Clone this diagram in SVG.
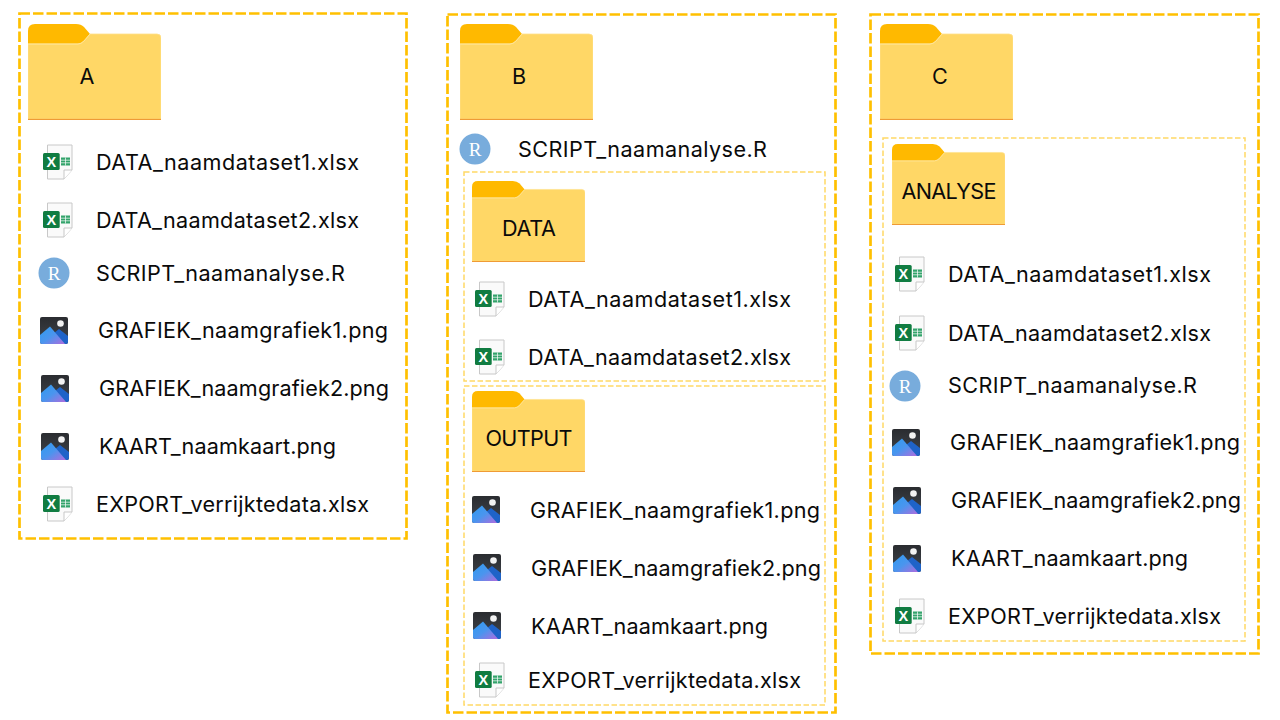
<svg xmlns="http://www.w3.org/2000/svg" width="1280" height="720" viewBox="0 0 1280 720">
<style>
text{font-family:Inter,"Liberation Sans",Arial,sans-serif;font-size:21.6px;fill:#0a0a0a;dominant-baseline:central}
.outer{fill:none;stroke:#FFC000;stroke-width:2.700;stroke-dasharray:10.500 3}
.inner{fill:none;stroke:#FFD966;stroke-width:1.500;stroke-dasharray:5.500 2.500}
.xl{font-family:"Liberation Sans",Arial,sans-serif;font-weight:bold;font-size:14.500px;fill:#fff;text-anchor:middle}
.r{font-family:"Liberation Serif",serif;font-size:19px;fill:#fff;text-anchor:middle}
.ft{text-anchor:middle}
</style>
<defs>
<linearGradient id="img" x1="0" y1="0" x2="1" y2="1"><stop offset="0" stop-color="#2F9BEF"/><stop offset="0.5" stop-color="#4A95EE"/><stop offset="1" stop-color="#B06CDE"/></linearGradient>
<linearGradient id="bg" x1="0" y1="0" x2="0" y2="1"><stop offset="0" stop-color="#2A2C30"/><stop offset="1" stop-color="#40454C"/></linearGradient>
<symbol id="folder" viewBox="0 0 133 96" preserveAspectRatio="none">
<path d="M0 7Q0 0 7 0H48Q53 0 56 3L62 10L60 20H0Z" fill="#FFB900"/>
<path d="M0 20H50Q53 20 56 17L62 10H129Q133 10 133 14V95H0Z" fill="#FFD766" stroke="#FFE08A" stroke-width=".8"/>
<path d="M0 20H50Q53 20 56 17L62 10" fill="none" stroke="#FFE597" stroke-width="1"/>
<rect x="0" y="94.800" width="133" height="1.200" fill="#EF9B35"/>
</symbol>
<symbol id="excel" viewBox="0 0 30 36">
<path d="M4.500 1H29V26L21 35H4.500Z" fill="#FAFAFA" stroke="#C8C8C8"/>
<path d="M21 35V26H29" fill="#fff" stroke="#C8C8C8"/>
<rect x="0" y="9" width="16.700" height="17" rx="1.500" fill="#107C41"/>
<rect x="18" y="13.500" width="9" height="8" fill="#33A36B"/>
<path d="M18 16.200H27M18 18.800H27M22.500 13.500V21.500" stroke="#fff" stroke-width=".7"/>
</symbol>
<symbol id="image" viewBox="0 0 28 27">
<rect width="28" height="27" rx="2" fill="url(#bg)"/>
<path d="M14 16L19 12L28 19V25Q28 27 26 27H20Z" fill="#1F63C8"/>
<path d="M0 18L10 9.500L25 27H2Q0 27 0 25Z" fill="url(#img)"/>
<circle cx="20.500" cy="6.500" r="3.300" fill="#F2F2F2"/>
</symbol>
<g id="xi"><use href="#excel" width="30" height="36" x="-15" y="-18"/><text class="xl" x="-6.700" y="0">X</text></g>
<g id="ri"><circle r="15.500" fill="#78ACDC"/><text class="r" y="0">R</text></g>
</defs>

<g id="panel-A">
<rect class="outer" x="19.500" y="13.500" width="387" height="525"/>
<g id="folder-A"><use href="#folder" x="28" y="24" width="133" height="96"/><text class="ft" x="87" y="76">A</text></g>
<g id="a-data1"><use href="#xi" x="58" y="162"/><text x="96" y="162" textLength="263">DATA_naamdataset1.xlsx</text></g>
<g id="a-data2"><use href="#xi" x="58" y="220"/><text x="96" y="220" textLength="263">DATA_naamdataset2.xlsx</text></g>
<g id="a-script"><use href="#ri" x="54" y="273"/><text x="96" y="273" textLength="249">SCRIPT_naamanalyse.R</text></g>
<g id="a-graf1"><use href="#image" x="40" y="317" width="28" height="27"/><text x="98" y="330" textLength="290">GRAFIEK_naamgrafiek1.png</text></g>
<g id="a-graf2"><use href="#image" x="41" y="375" width="28" height="27"/><text x="99" y="388" textLength="290">GRAFIEK_naamgrafiek2.png</text></g>
<g id="a-kaart"><use href="#image" x="41" y="433" width="28" height="27"/><text x="99" y="446" textLength="237">KAART_naamkaart.png</text></g>
<g id="a-export"><use href="#xi" x="58" y="504"/><text x="96" y="504" textLength="273">EXPORT_verrijktedata.xlsx</text></g>
</g>

<g id="panel-B">
<rect class="outer" x="447.500" y="14.500" width="388" height="698"/>
<g id="folder-B"><use href="#folder" x="460" y="24" width="133" height="96"/><text class="ft" x="519" y="76">B</text></g>
<g id="b-script"><use href="#ri" x="475" y="149"/><text x="518" y="149" textLength="249">SCRIPT_naamanalyse.R</text></g>
<rect class="inner" x="464" y="172" width="361" height="209"/>
<g id="folder-DATA"><use href="#folder" x="472" y="181" width="113" height="81"/><text class="ft" x="529" y="228" textLength="54">DATA</text></g>
<g id="b-data1"><use href="#xi" x="490" y="299"/><text x="528" y="299" textLength="263">DATA_naamdataset1.xlsx</text></g>
<g id="b-data2"><use href="#xi" x="490" y="357"/><text x="528" y="357" textLength="263">DATA_naamdataset2.xlsx</text></g>
<rect class="inner" x="464" y="386" width="361" height="319"/>
<g id="folder-OUTPUT"><use href="#folder" x="472" y="391" width="113" height="81"/><text class="ft" x="529" y="438" textLength="87">OUTPUT</text></g>
<g id="b-graf1"><use href="#image" x="472" y="496" width="28" height="27"/><text x="530" y="510" textLength="290">GRAFIEK_naamgrafiek1.png</text></g>
<g id="b-graf2"><use href="#image" x="473" y="554" width="28" height="27"/><text x="531" y="568" textLength="290">GRAFIEK_naamgrafiek2.png</text></g>
<g id="b-kaart"><use href="#image" x="473" y="612" width="28" height="27"/><text x="531" y="626" textLength="237">KAART_naamkaart.png</text></g>
<g id="b-export"><use href="#xi" x="490" y="680"/><text x="528" y="680" textLength="273">EXPORT_verrijktedata.xlsx</text></g>
</g>

<g id="panel-C">
<rect class="outer" x="870.500" y="14.500" width="388" height="639"/>
<g id="folder-C"><use href="#folder" x="880" y="24" width="133" height="96"/><text class="ft" x="940" y="76">C</text></g>
<rect class="inner" x="883" y="138" width="362" height="503"/>
<g id="folder-ANALYSE"><use href="#folder" x="892" y="144" width="113" height="81"/><text class="ft" x="949" y="191" textLength="95">ANALYSE</text></g>
<g id="c-data1"><use href="#xi" x="910" y="274"/><text x="948" y="274" textLength="263">DATA_naamdataset1.xlsx</text></g>
<g id="c-data2"><use href="#xi" x="910" y="333"/><text x="948" y="333" textLength="263">DATA_naamdataset2.xlsx</text></g>
<g id="c-script"><use href="#ri" x="905" y="386"/><text x="948" y="385" textLength="249">SCRIPT_naamanalyse.R</text></g>
<g id="c-graf1"><use href="#image" x="892" y="429" width="28" height="27"/><text x="950" y="442" textLength="290">GRAFIEK_naamgrafiek1.png</text></g>
<g id="c-graf2"><use href="#image" x="893" y="487" width="28" height="27"/><text x="951" y="500" textLength="290">GRAFIEK_naamgrafiek2.png</text></g>
<g id="c-kaart"><use href="#image" x="893" y="545" width="28" height="27"/><text x="951" y="558" textLength="237">KAART_naamkaart.png</text></g>
<g id="c-export"><use href="#xi" x="910" y="616"/><text x="948" y="616" textLength="273">EXPORT_verrijktedata.xlsx</text></g>
</g>
</svg>
